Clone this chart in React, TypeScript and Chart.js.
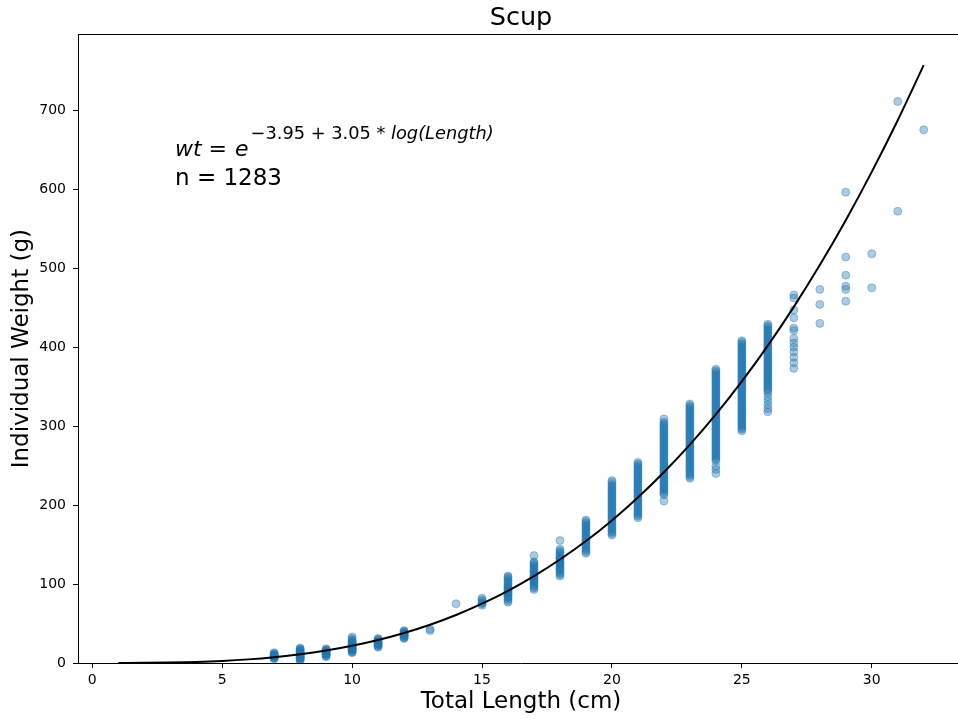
import React, { useEffect, useRef } from "react";
import { Chart, registerables } from "chart.js";

Chart.register(...registerables);

const FONT = '"DejaVu Sans", "Liberation Sans", sans-serif';

const lengths = [7, 8, 9, 10, 11, 12, 13, 14, 15, 16, 17, 18, 19, 20, 21, 22, 23, 24, 25, 26, 27, 28, 29, 30, 31, 32];
const weights: number[][] = [
  [5, 6, 7, 8, 9, 10, 11, 12, 13, 8, 9, 10],
  [3, 4, 5, 6, 7, 8, 9, 10, 11, 12, 13, 14, 15, 16, 17, 18, 19, 7, 9, 11],
  [8, 9, 10, 11, 12, 13, 14, 15, 16, 17, 18, 11, 13, 15],
  [13, 14, 15, 16, 17, 18, 19, 20, 21, 22, 23, 24, 25, 26, 27, 28, 29, 31, 33, 18, 20, 22],
  [20, 21, 22, 23, 24, 25, 26, 27, 28, 29, 30, 31, 24, 26],
  [31, 32, 33, 34, 35, 36, 37, 38, 39, 40, 41, 35, 37],
  [41, 43],
  [75],
  [73, 75, 76, 78, 80, 82],
  [77, 79, 81, 83, 85, 87, 89, 91, 93, 95, 97, 99, 101, 103, 105, 107, 109, 110, 84, 88, 92, 96],
  [93, 95, 97, 99, 101, 103, 105, 107, 109, 111, 113, 115, 117, 119, 121, 123, 125, 127, 128, 136, 104, 110, 116],
  [110, 112, 114, 116, 118, 120, 122, 124, 126, 128, 130, 132, 134, 136, 138, 140, 142, 144, 155, 120, 126, 132],
  [139, 141, 143, 145, 147, 149, 151, 153, 155, 157, 159, 161, 163, 165, 167, 169, 171, 173, 175, 177, 179, 181],
  [162, 164, 166, 168, 170, 172, 174, 176, 178, 180, 182, 184, 186, 188, 190, 192, 194, 196, 198, 200, 202, 204, 206, 208, 210, 212, 214, 216, 218, 220, 222, 224, 226, 229, 231],
  [184, 186, 188, 190, 192, 194, 196, 198, 200, 202, 204, 206, 208, 210, 212, 214, 216, 218, 220, 222, 224, 226, 228, 230, 232, 234, 236, 238, 240, 242, 244, 246, 248, 250, 252, 254],
  [205, 213, 215, 217, 219, 221, 223, 225, 227, 229, 231, 233, 235, 237, 239, 241, 243, 245, 247, 249, 251, 253, 255, 257, 259, 261, 263, 265, 267, 269, 271, 273, 275, 277, 279, 281, 283, 285, 287, 289, 291, 293, 295, 297, 299, 301, 303, 305, 309],
  [234, 236, 238, 240, 242, 244, 246, 248, 250, 252, 254, 256, 258, 260, 262, 264, 266, 268, 270, 272, 274, 276, 278, 280, 282, 284, 286, 288, 290, 292, 294, 296, 298, 300, 302, 304, 306, 308, 310, 312, 314, 316, 318, 320, 322, 324, 326, 328],
  [240, 245, 249, 256, 258, 260, 262, 264, 266, 268, 270, 272, 274, 276, 278, 280, 282, 284, 286, 288, 290, 292, 294, 296, 298, 300, 302, 304, 306, 308, 310, 312, 314, 316, 318, 320, 322, 324, 326, 328, 330, 332, 334, 336, 338, 340, 342, 344, 346, 348, 350, 352, 354, 356, 358, 360, 362, 364, 366, 368, 370, 372],
  [294, 296, 298, 300, 302, 304, 306, 308, 310, 312, 314, 316, 318, 320, 322, 324, 326, 328, 330, 332, 334, 336, 338, 340, 342, 344, 346, 348, 350, 352, 354, 356, 358, 360, 362, 364, 366, 368, 370, 372, 374, 376, 378, 380, 382, 384, 386, 388, 390, 392, 394, 396, 398, 400, 402, 404, 406, 408],
  [318, 322, 327, 332, 337, 342, 345, 347, 349, 351, 353, 355, 357, 359, 361, 363, 365, 367, 369, 371, 373, 375, 377, 379, 381, 383, 385, 387, 389, 391, 393, 395, 397, 399, 401, 403, 405, 407, 409, 411, 413, 415, 417, 419, 421, 423, 425, 427, 429],
  [373, 380, 387, 394, 400, 405, 411, 421, 424, 437, 447, 462, 466],
  [430, 454, 473],
  [458, 473, 477, 491, 514, 596],
  [475, 518],
  [572, 711],
  [675],
];

// Fitted length-weight curve, as drawn
const fitLengths = [1, 2, 3, 4, 5, 6, 7, 8, 9, 10, 11, 12, 13, 14, 15, 16, 17, 18, 19, 20, 21, 22, 23, 24, 25, 26, 27, 28, 29, 30, 31, 32];
const fitWeights = [0.02, 0.16, 0.55, 1.33, 2.63, 4.59, 7.34, 11.0, 15.8, 21.8, 29.1, 38.0, 48.5, 60.8, 75.1, 91.4, 110.0, 131.0, 154.4, 180.5, 209.5, 241.5, 276.5, 314.8, 356.6, 401.9, 450.9, 503.8, 560.7, 621.8, 687.2, 757.0];

const xTickValues = [0, 5, 10, 15, 20, 25, 30];
const yTickValues = [0, 100, 200, 300, 400, 500, 600, 700];

const titleText = "Scup";
const xLabel = "Total Length (cm)";
const yLabel = "Individual Weight (g)";
const sampleSize = "n = 1283";

const notePlugin = {
  id: "noteAndFrame",
  afterDraw(chart: any) {
    const { ctx, chartArea } = chart;
    ctx.save();
    // top spine
    ctx.strokeStyle = "#000";
    ctx.lineWidth = 1;
    ctx.beginPath();
    ctx.moveTo(chartArea.left, Math.round(chartArea.top) + 0.5);
    ctx.lineTo(chartArea.right, Math.round(chartArea.top) + 0.5);
    ctx.stroke();

    ctx.fillStyle = "#000";
    ctx.textBaseline = "alphabetic";
    ctx.textAlign = "left";
    let x = 175;
    const y = 156;
    ctx.font = `italic 22px ${FONT}`;
    ctx.fillText("wt", x, y);
    x += ctx.measureText("wt").width;
    ctx.font = `22px ${FONT}`;
    ctx.fillText(" = ", x, y);
    x += ctx.measureText(" = ").width + 1;
    ctx.font = `italic 22px ${FONT}`;
    ctx.fillText("e", x, y);
    x += ctx.measureText("e").width + 2;
    const ys = y - 17;
    ctx.font = `17.8px ${FONT}`;
    const sup1 = "\u22123.95 + 3.05 * ";
    ctx.fillText(sup1, x, ys);
    x += ctx.measureText(sup1).width;
    ctx.font = `italic 17.8px ${FONT}`;
    ctx.fillText("log(Length)", x, ys);

    ctx.font = `23px ${FONT}`;
    ctx.fillText(sampleSize, 175, 185);
    ctx.restore();
  },
};

export default function App() {
  const ref = useRef<HTMLCanvasElement | null>(null);

  useEffect(() => {
    if (!ref.current) return;
    const scatterPts: { x: number; y: number }[] = [];
    lengths.forEach((L, i) => {
      weights[i].forEach((w) => scatterPts.push({ x: L, y: w }));
    });
    const fitPts = fitLengths.map((L, i) => ({ x: L, y: fitWeights[i] }));

    const fixAxis = (size: number, vertical: boolean) => (scale: any) => {
      if (vertical) scale.width = size;
      else scale.height = size;
      scale.paddingTop = 0;
      scale.paddingBottom = 0;
      scale.paddingLeft = 0;
      scale.paddingRight = 0;
    };

    const chart = new Chart(ref.current, {
      type: "scatter",
      data: {
        datasets: [
          {
            type: "line",
            data: fitPts,
            borderColor: "#000000",
            borderWidth: 2,
            pointRadius: 0,
            fill: false,
            cubicInterpolationMode: "monotone",
            order: 0,
          } as any,
          {
            data: scatterPts,
            backgroundColor: "rgba(31,119,180,0.38)",
            borderColor: "rgba(31,119,180,0.38)",
            borderWidth: 1,
            pointRadius: 4,
            order: 1,
          },
        ],
      },
      options: {
        responsive: false,
        animation: false,
        devicePixelRatio: 1,
        layout: { padding: { left: 0, right: 0, top: 0, bottom: 0 } },
        font: { family: FONT },
        plugins: {
          legend: { display: false },
          tooltip: { enabled: false },
          title: {
            display: true,
            text: titleText,
            fullSize: false,
            color: "#000",
            font: { family: FONT, size: 25.5, weight: "normal" as any },
            padding: { top: 3, bottom: 0.7 },
          },
        },
        scales: {
          x: {
            type: "linear",
            min: -0.55,
            max: 33.55,
            afterFit: fixAxis(56, false),
            afterBuildTicks: (scale: any) => {
              scale.ticks = xTickValues.map((v) => ({ value: v }));
            },
            grid: {
              drawOnChartArea: false,
              drawTicks: true,
              tickLength: 5,
              color: "#000",
              tickColor: "#000",
            },
            border: { display: true, color: "#000", width: 1 },
            ticks: {
              color: "#000",
              padding: 4,
              maxRotation: 0,
              font: { family: FONT, size: 14 },
              callback: (v: any) => String(v),
            },
            title: {
              display: true,
              text: xLabel,
              color: "#000",
              font: { family: FONT, size: 23 },
              padding: { top: 4, bottom: 3 },
            },
          },
          y: {
            type: "linear",
            min: 0,
            max: 796,
            afterFit: fixAxis(78, true),
            afterBuildTicks: (scale: any) => {
              scale.ticks = yTickValues.map((v) => ({ value: v }));
            },
            grid: {
              drawOnChartArea: false,
              drawTicks: true,
              tickLength: 5,
              color: "#000",
              tickColor: "#000",
            },
            border: { display: true, color: "#000", width: 1 },
            ticks: {
              color: "#000",
              padding: 7,
              font: { family: FONT, size: 14 },
              callback: (v: any) => String(v),
            },
            title: {
              display: true,
              text: yLabel,
              color: "#000",
              font: { family: FONT, size: 23 },
              padding: { top: 8, bottom: 4 },
            },
          },
        },
      },
      plugins: [notePlugin],
    });
    return () => chart.destroy();
  }, []);

  return (
    <div
      style={{
        position: "fixed",
        left: 0,
        top: 0,
        width: 958,
        height: 719,
        overflow: "hidden",
        background: "#fff",
      }}
    >
      <canvas ref={ref} width={969} height={719} style={{ display: "block" }} />
    </div>
  );
}
